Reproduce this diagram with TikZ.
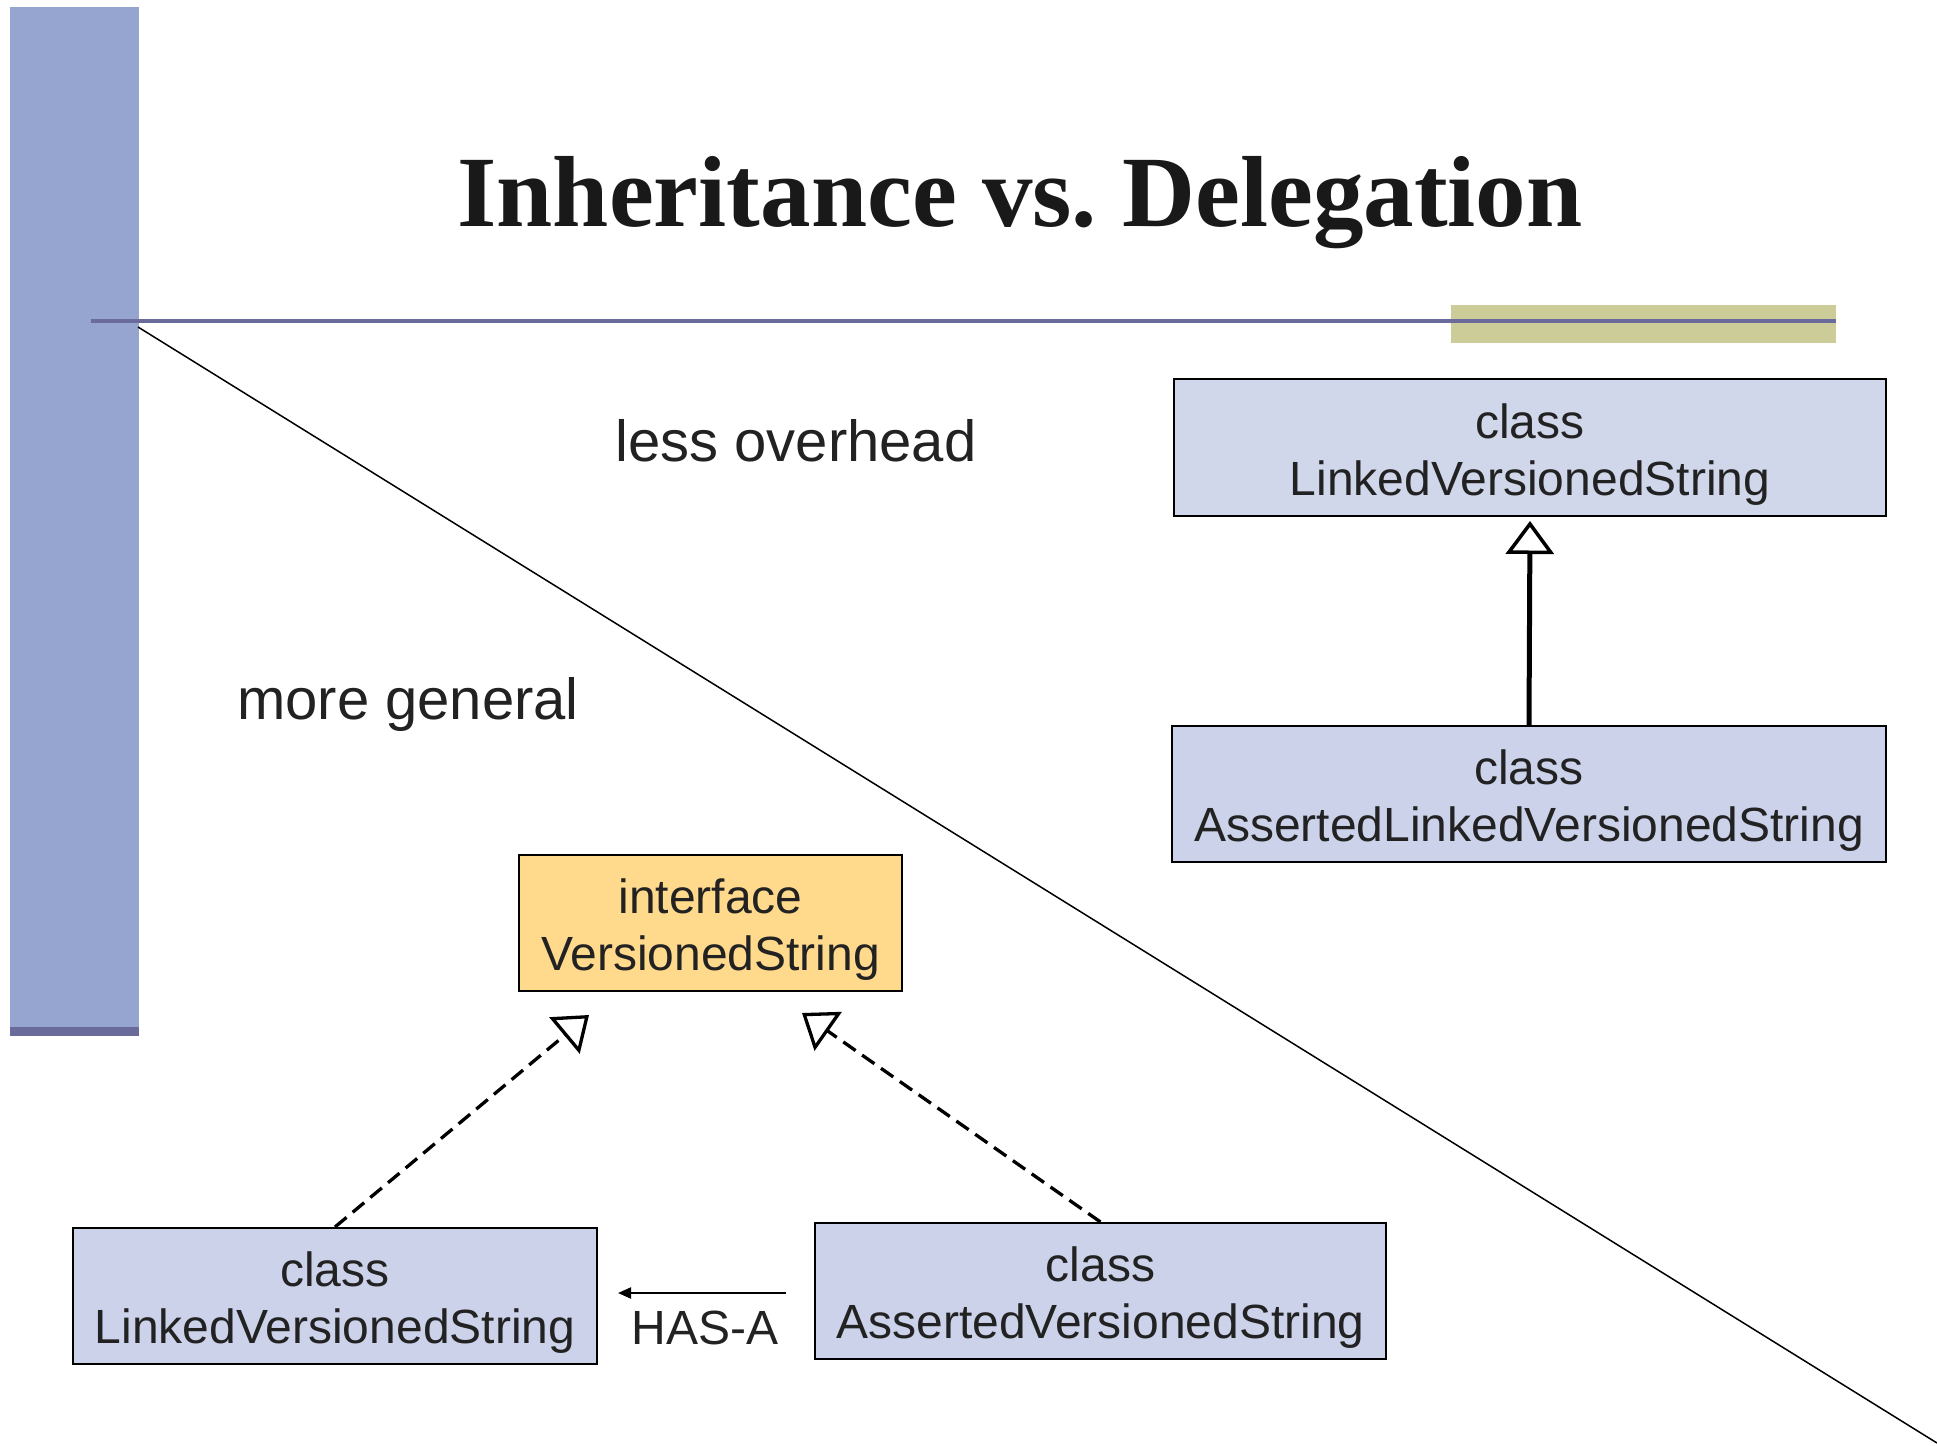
\documentclass[tikz,border=0pt]{standalone}
\usepackage{fontspec}
\setmainfont{Liberation Serif}
\newfontfamily\arialf{Liberation Sans}
\usetikzlibrary{arrows.meta}
\definecolor{barblue}{HTML}{96A5D0}
\definecolor{lineblue}{HTML}{6B6B9B}
\definecolor{olivebar}{HTML}{CCCC99}
\definecolor{boxblue}{HTML}{D0D7EA}
\definecolor{patblue}{HTML}{CBD2EA}
\definecolor{ifyellow}{HTML}{FFD98C}
\definecolor{txt}{HTML}{222222}
\begin{document}
\begin{tikzpicture}[x=1pt,y=-1pt,
  umlbox/.style={draw=black, line width=2pt, inner sep=0pt, align=center, text=txt,
    font=\arialf\fontsize{48}{57}\selectfont, text height=95pt, text depth=0pt,
    minimum height=136pt},
  biglabel/.style={text=txt, font=\arialf\fontsize{58}{68}\selectfont, inner sep=0pt, anchor=base},
  realize/.style={dash pattern=on 15pt off 8pt, line width=3.3pt,
    -{Triangle[open,length=32pt,width=47pt,line width=3.3pt]}},
  inherit/.style={line width=5pt, -{Triangle[open,length=33pt,width=48pt,line width=3.5pt]}},
  hasa/.style={line width=2pt, -{Triangle[length=13pt,width=11pt]}}
]
\useasboundingbox (0,0) rectangle (1937,1445);
\fill[white] (0,0) rectangle (1937,1445);
% left bar
\fill[barblue] (10,7) rectangle (139,1027);
\fill[lineblue] (10,1027) rectangle (139,1036);
% olive bar and rule
\fill[olivebar] (1451,305) rectangle (1836,343);
\draw[lineblue, line width=4pt] (91,321) -- (1836,321);
% diagonal
\draw[black, line width=1.5pt] (138,327) -- (1937,1443);
% title
\node[font=\bfseries\fontsize{101}{120}\selectfont, text=black!90, anchor=base, inner sep=0pt] (title) at (1020,226) {Inheritance vs.\ Delegation};
% labels
\node[biglabel] (less) at (796,461) {less overhead};
\node[biglabel] (more) at (408,719) {more general};
% boxes
\node[umlbox, fill=boxblue, minimum width=712pt, minimum height=137pt] (lvs) at (1530,447.5) {class\\LinkedVersionedString};
\node[umlbox, fill=patblue, minimum width=714pt] (alvs) at (1529,794) {class\\AssertedLinkedVersionedString};
\node[umlbox, fill=ifyellow, minimum width=383pt] (iface) at (710.5,923) {interface\\VersionedString};
\node[umlbox, fill=patblue, minimum width=524pt] (lvsb) at (335,1296) {class\\LinkedVersionedString};
\node[umlbox, fill=patblue, minimum width=571pt] (avs) at (1100.5,1291) {class\\AssertedVersionedString};
% connectors
\coordinate (tipL) at (589,1015);
\coordinate (tipR) at (802,1013);
\draw[realize] (lvsb.north) -- (tipL);
\draw[realize] (avs.north) -- (tipR);
\draw[inherit, shorten >=4pt] (alvs.north) -- (lvs.south);
\coordinate (hasS) at (786,1293);
\coordinate (hasE) at (618,1293);
\draw[hasa] (hasS) -- (hasE);
\node[text=txt, font=\arialf\fontsize{48}{57}\selectfont, inner sep=0pt, anchor=base] (hasalbl) at (705,1344) {HAS-A};
\end{tikzpicture}
\end{document}
